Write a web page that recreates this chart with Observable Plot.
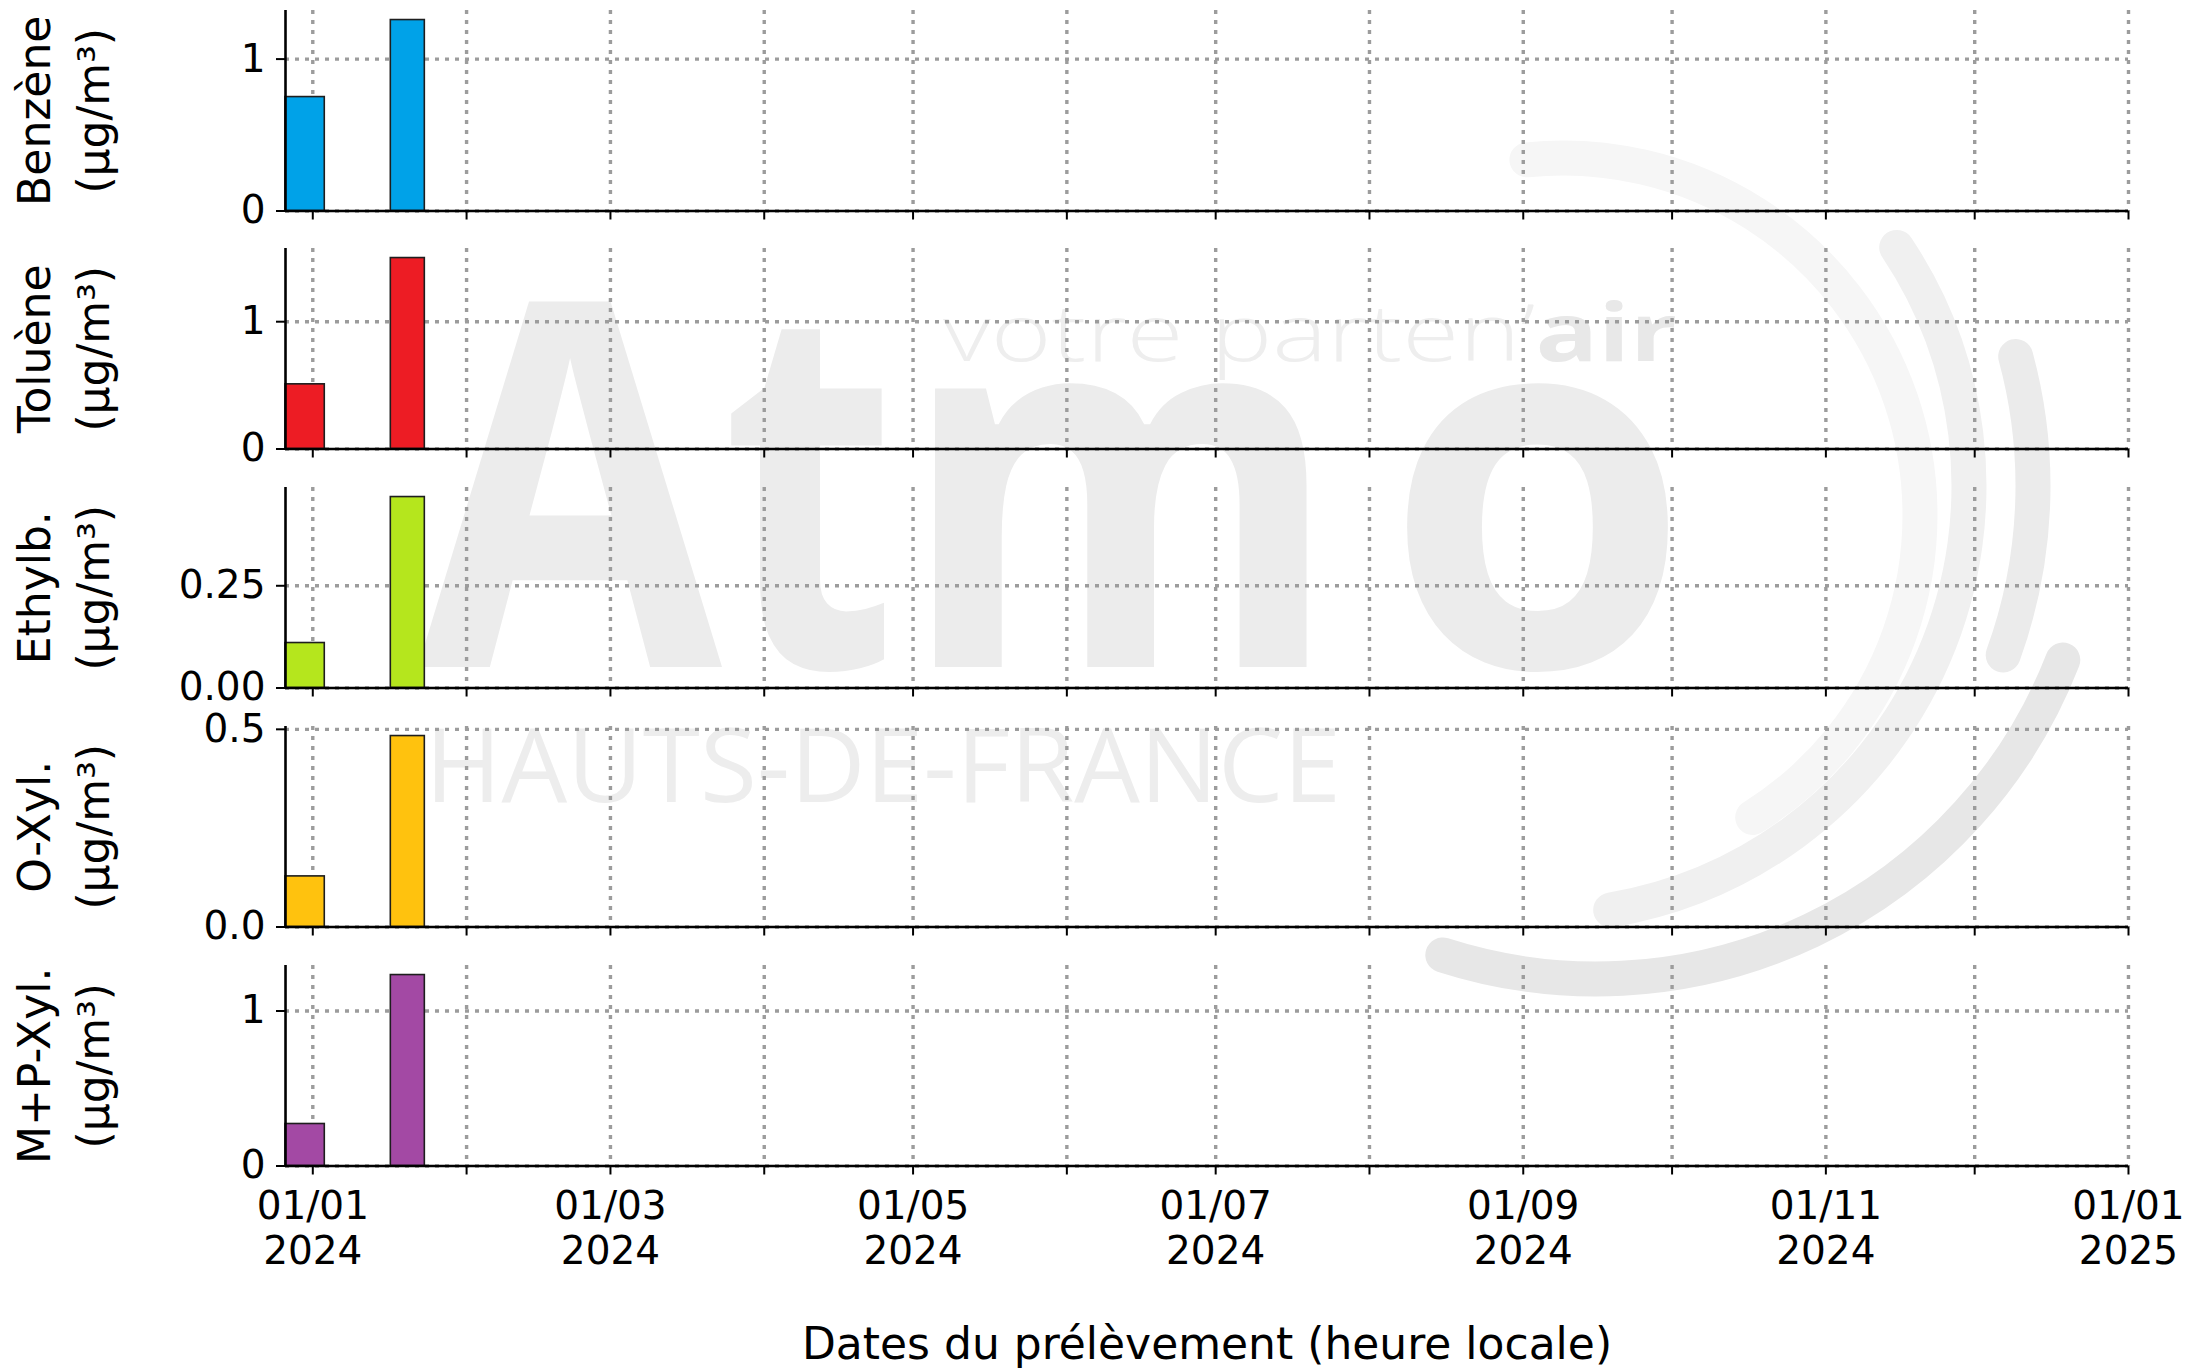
<!DOCTYPE html>
<html>
<head>
<meta charset="utf-8">
<script src="https://cdn.jsdelivr.net/npm/d3@7"></script>
<script src="https://cdn.jsdelivr.net/npm/@observablehq/plot@0.6"></script>
<style>
html, body { margin: 0; padding: 0; background: #ffffff; }
#root { position: relative; width: 2194px; height: 1368px; overflow: hidden; font-family: "DejaVu Sans", sans-serif; background: #ffffff; }
#wm { position: absolute; left: 0; top: 0; z-index: 0; }
.panel { position: absolute; left: 0; z-index: 1; }
</style>
</head>
<body>
<div id="root">
<svg id="wm" width="2194" height="1368" viewBox="0 0 2194 1368"></svg>
</div>
<script>
// ---------------- data ----------------
const speciesLabels = ["Benzène\n(µg/m³)", "Toluène\n(µg/m³)", "Ethylb.\n(µg/m³)", "O-Xyl.\n(µg/m³)", "M+P-Xyl.\n(µg/m³)"];
const speciesColors = ["#00a2e8", "#ed1c24", "#b5e61d", "#ffc20e", "#a349a4"];

// sampling periods (start / end of each weekly sample)
const sampleStart = ["2023-12-26T12:00", "2024-01-16T17:30"];
const sampleEnd   = ["2024-01-03T10:00", "2024-01-23T14:00"];

// concentrations (µg/m3)
const benzene = [0.75, 1.257];
const toluene = [0.508, 1.50];
const ethylb  = [0.110, 0.467];
const oxyl    = [0.128, 0.483];
const mpxyl   = [0.271, 1.232];

// y ticks and their labels
const yTicksBenzene = [0, 1];    const yLabelsBenzene = ["0", "1"];
const yTicksToluene = [0, 1];    const yLabelsToluene = ["0", "1"];
const yTicksEthylb  = [0, 0.25]; const yLabelsEthylb  = ["0.00", "0.25"];
const yTicksOxyl    = [0, 0.5];  const yLabelsOxyl    = ["0.0", "0.5"];
const yTicksMpxyl   = [0, 1];    const yLabelsMpxyl   = ["0", "1"];

// x axis
const xStart = "2023-12-26T12:00";
const xEnd   = "2025-01-01T00:00";
const monthTicks = ["2024-01-01", "2024-02-01", "2024-03-01", "2024-04-01", "2024-05-01", "2024-06-01",
  "2024-07-01", "2024-08-01", "2024-09-01", "2024-10-01", "2024-11-01", "2024-12-01", "2025-01-01"];
const xTickLabels = ["01/01\n2024", "", "01/03\n2024", "", "01/05\n2024", "", "01/07\n2024", "",
  "01/09\n2024", "", "01/11\n2024", "", "01/01\n2025"];
const xTitle = "Dates du prélèvement (heure locale)";

// ---------------- build ----------------
const series = [
  {values: benzene, ticks: yTicksBenzene, tickLabels: yLabelsBenzene},
  {values: toluene, ticks: yTicksToluene, tickLabels: yLabelsToluene},
  {values: ethylb,  ticks: yTicksEthylb,  tickLabels: yLabelsEthylb},
  {values: oxyl,    ticks: yTicksOxyl,    tickLabels: yLabelsOxyl},
  {values: mpxyl,   ticks: yTicksMpxyl,   tickLabels: yLabelsMpxyl}
].map((s, i) => ({...s, label: speciesLabels[i], color: speciesColors[i]}));

const utc = s => new Date(s + (s.length <= 10 ? "T00:00Z" : "Z"));
const xDomain = [utc(xStart), utc(xEnd)];
const monthDates = monthTicks.map(utc);
const xLabelMap = new Map(monthDates.map((d, i) => [+d, xTickLabels[i]]));

const gridStyle = {stroke: "#9c9c9c", strokeOpacity: 1, strokeWidth: 3.4, strokeDasharray: "4,6"};
const root = document.getElementById("root");

series.forEach((s, i) => {
  const last = i === series.length - 1;
  const frameTop = 9.5 + i * 238.9;
  const frameH = 200.5;
  const mt = 10;
  const mb = last ? 1368 - (frameTop + frameH) : 22;
  const rows = sampleStart.map((st, j) => ({start: utc(sampleStart[j]), end: utc(sampleEnd[j]), value: s.values[j]}));
  const ymax = d3.max(s.values) * 1.05;
  const chart = Plot.plot({
    width: 2194,
    height: mt + frameH + mb,
    marginTop: mt,
    marginBottom: mb,
    marginLeft: 285,
    marginRight: 66,
    style: {background: "transparent", fontFamily: "DejaVu Sans", color: "black", overflow: "visible"},
    x: {type: "utc", domain: xDomain, axis: null},
    y: {domain: [0, ymax], axis: null},
    marks: [
      Plot.gridX(monthDates, gridStyle),
      Plot.gridY(s.ticks, gridStyle),
      Plot.rect(rows, {x1: "start", x2: "end", y1: 0, y2: "value", fill: s.color, stroke: "#1e1e1e", strokeWidth: 1.6}),
      Plot.ruleY([0], {stroke: "black", strokeWidth: 2.6}),
      Plot.ruleX([xDomain[0]], {stroke: "black", strokeWidth: 2.6}),
      Plot.axisX(monthDates, {
        tickSize: 9, strokeWidth: 2, tickPadding: 12.5, fontSize: 39, lineHeight: 45 / 39,
        tickFormat: last ? (d => xLabelMap.get(+d)) : (() => ""), label: null
      }),
      Plot.axisY(s.ticks, {
        tickSize: 9, strokeWidth: 2, tickPadding: 11, fontSize: 39,
        tickFormat: d => s.tickLabels[s.ticks.indexOf(d)], label: null
      }),
      Plot.text([s.label], {
        frameAnchor: "left", rotate: -90, dx: -224.5, fontSize: 44, lineHeight: 1.34,
        textAnchor: "middle", lineAnchor: "middle", text: d => d
      }),
      last ? Plot.text([xTitle], {frameAnchor: "bottom", dy: 178.5, fontSize: 44, textAnchor: "middle", lineAnchor: "middle", text: d => d}) : null
    ]
  });
  chart.classList.add("panel");
  chart.style.top = (frameTop - mt) + "px";
  root.appendChild(chart);
});

// ---------------- watermark (logo) ----------------
function arcPath(cx, cy, r, a0, a1) {
  const p = a => [cx + r * Math.cos(a * Math.PI / 180), cy + r * Math.sin(a * Math.PI / 180)];
  const [x0, y0] = p(a0), [x1, y1] = p(a1);
  return `M${x0.toFixed(1)},${y0.toFixed(1)} A${r},${r} 0 ${(a1 - a0) > 180 ? 1 : 0} 1 ${x1.toFixed(1)},${y1.toFixed(1)}`;
}
const wm = document.getElementById("wm");
const wf = `font-family="Open Sans, Lato, sans-serif"`;
wm.innerHTML = `
  <g fill="#ececec" ${wf} font-weight="700" font-size="510">
    <text x="418" y="667" textLength="304" lengthAdjust="spacingAndGlyphs">A</text>
    <text x="722" y="667" textLength="175" lengthAdjust="spacingAndGlyphs">t</text>
    <text x="900" y="667" textLength="440" lengthAdjust="spacingAndGlyphs">m</text>
    <text x="1385" y="667" textLength="305" lengthAdjust="spacingAndGlyphs">o</text>
  </g>
  <text x="943" y="361" ${wf} font-size="80" fill="#eeeeee" textLength="734" lengthAdjust="spacingAndGlyphs"><tspan font-weight="300">votre parten’</tspan><tspan font-weight="700" fill="#e8e8e8">air</tspan></text>
  <text x="425" y="802" ${wf} font-size="103" fill="#ededed" textLength="916" lengthAdjust="spacingAndGlyphs">HAUTS-DE-FRANCE</text>
  <g fill="none" stroke-width="35" stroke-linecap="round">
    <path d="${arcPath(1563, 515, 357, -95.8, 57.9)}" stroke="#f6f6f6"/>
    <path d="${arcPath(1539, 486, 430, -33.7, 80.4)}" stroke="#f0f0f0"/>
    <path d="${arcPath(1539, 486, 494, -15.2, 20)}" stroke="#ebebeb"/>
    <path d="${arcPath(1596, 478, 501, 21.3, 107.8)}" stroke="#e7e7e7"/>
  </g>`;
</script>
</body>
</html>
